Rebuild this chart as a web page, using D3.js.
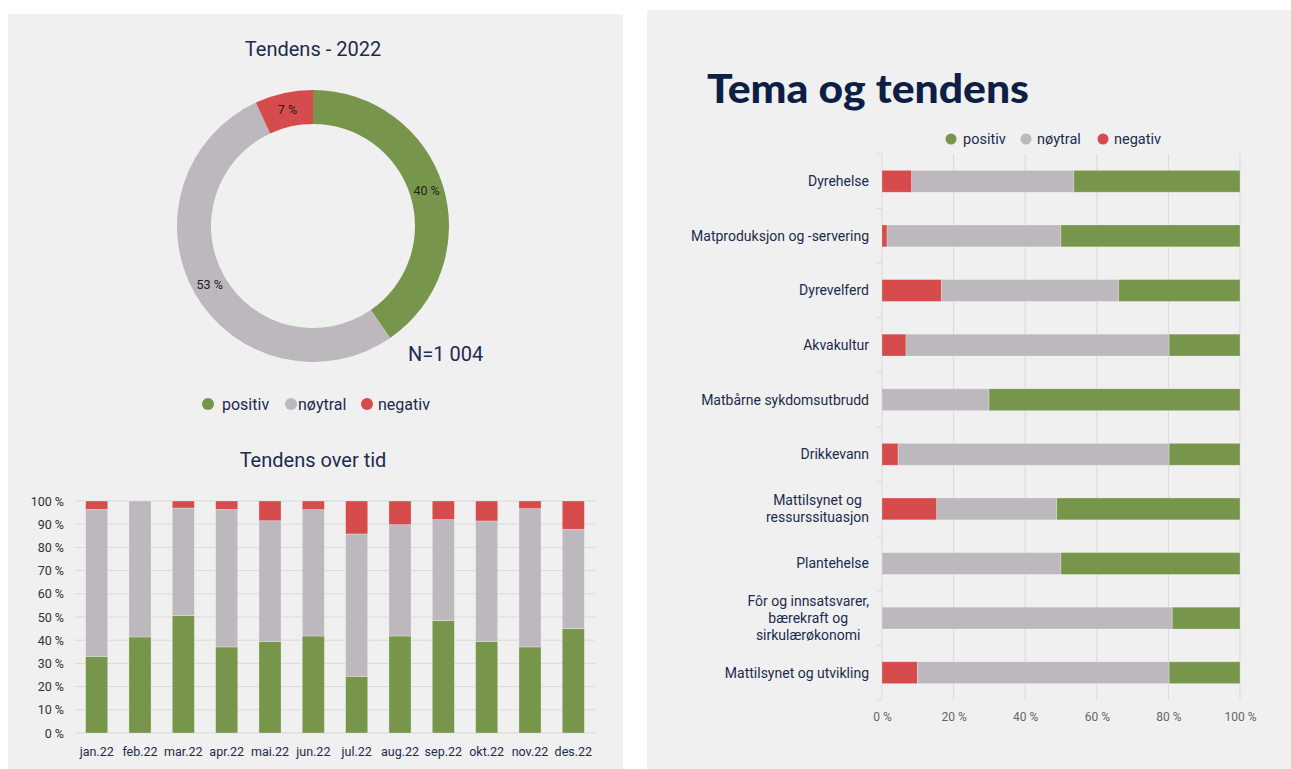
<!DOCTYPE html>
<html><head><meta charset="utf-8">
<script src="https://cdn.jsdelivr.net/npm/d3@7"></script>
<style>
html,body{margin:0;padding:0;background:#fff;}
svg{display:block;font-family:Roboto,"Noto Sans",sans-serif;}
</style></head>
<body>
<svg id="c" width="1291" height="769"></svg>
<script>
// ---------- data ----------
const seriesNames = ["positiv", "nøytral", "negativ"];
const donutValues = [40.4, 52.7, 6.9];
const donutLabels = ["40 %", "53 %", "7 %"];
const donutN = "N=1 004";

const months = ["jan.22","feb.22","mar.22","apr.22","mai.22","jun.22","jul.22","aug.22","sep.22","okt.22","nov.22","des.22"];
const monthPositive = [33.0, 41.4, 50.6, 37.1, 39.5, 41.8, 24.4, 41.8, 48.5, 39.5, 37.1, 45.0];
const monthNeutral  = [63.4, 58.6, 46.4, 59.3, 52.0, 54.5, 61.4, 48.0, 43.5, 51.9, 59.6, 42.8];
const monthNegative = [3.6, 0.0, 3.0, 3.6, 8.5, 3.7, 14.2, 10.2, 8.0, 8.6, 3.3, 12.2];
const monthTicks = [0,10,20,30,40,50,60,70,80,90,100];

const themes = ["Dyrehelse","Matproduksjon og -servering","Dyrevelferd","Akvakultur","Matbårne sykdomsutbrudd","Drikkevann","Mattilsynet og\nressurssituasjon","Plantehelse","Fôr og innsatsvarer,\nbærekraft og\nsirkulærøkonomi","Mattilsynet og utvikling"];
const themeNegative = [8.3, 1.4, 16.6, 6.7, 0.0, 4.5, 15.3, 0.0, 0.0, 9.9];
const themeNeutral  = [45.3, 48.6, 49.5, 73.5, 29.9, 75.7, 33.5, 50.0, 81.1, 70.3];
const themePositive = [46.4, 50.0, 33.9, 19.8, 70.1, 19.8, 51.2, 50.0, 18.9, 19.8];
const themeTicks = [0,20,40,60,80,100];

// ---------- style ----------
const colors = {"positiv":"#78964b","nøytral":"#bcb8bd","negativ":"#d64b4b"};
const navy = "#1c2b4e";
const grid = "#d9d9d9";

const svg = d3.select("#c");
// panels
svg.append("rect").attr("x",8).attr("y",14).attr("width",615).attr("height",755).attr("fill","#f0f0f0");
svg.append("rect").attr("x",647).attr("y",10).attr("width",644).attr("height",759).attr("fill","#f0f0f0");

// ---------- donut ----------
const dg = svg.append("g").attr("transform","translate(313,226)");
const pie = d3.pie().sort(null).value(d=>d.v);
const pdata = pie(seriesNames.map((n,i)=>({n, v:donutValues[i], l:donutLabels[i]})));
const arc = d3.arc().innerRadius(102).outerRadius(136);
const labelArc = d3.arc().innerRadius(119).outerRadius(119);
dg.selectAll("path").data(pdata).join("path").attr("d",arc).attr("fill",d=>colors[d.data.n]);
dg.selectAll("text").data(pdata).join("text")
  .attr("transform",d=>`translate(${labelArc.centroid(d)})`)
  .attr("text-anchor","middle").attr("dy","0.35em")
  .attr("font-size",12.5).attr("fill","#222").text(d=>d.data.l);
svg.append("text").attr("x",313).attr("y",56).attr("text-anchor","middle")
  .attr("font-size",20).attr("fill",navy).text("Tendens - 2022");
svg.append("text").attr("x",408).attr("y",361).attr("font-size",20).attr("fill",navy).text(donutN);
// legend left
const ll = [[208,222],[291,298],[367,378]];
seriesNames.forEach((n,i)=>{
  svg.append("circle").attr("cx",ll[i][0]).attr("cy",404).attr("r",6).attr("fill",colors[n]);
  svg.append("text").attr("x",ll[i][1]).attr("y",409.5).attr("font-size",16).attr("fill",navy).text(n);
});

// ---------- monthly stacked bars ----------
svg.append("text").attr("x",313).attr("y",467).attr("text-anchor","middle")
  .attr("font-size",20).attr("fill",navy).text("Tendens over tid");
const mx = d3.scaleBand().domain(months).range([75,595]).paddingInner(0.49).paddingOuter(0.245);
const my = d3.scaleLinear().domain([0,100]).range([733,501]);
const mg = svg.append("g");
mg.selectAll("line.g").data(monthTicks).join("line")
  .attr("x1",75).attr("x2",595).attr("y1",d=>my(d)).attr("y2",d=>my(d))
  .attr("stroke",grid).attr("stroke-width",1);
const mrows = months.map((m,i)=>({m, "positiv":monthPositive[i], "nøytral":monthNeutral[i], "negativ":monthNegative[i]}));
const mstack = d3.stack().keys(seriesNames)(mrows);
mstack.forEach(s=>{
  mg.append("g").selectAll("rect").data(s).join("rect")
    .attr("x",d=>mx(d.data.m)).attr("width",mx.bandwidth())
    .attr("y",d=>my(d[1])).attr("height",d=>my(d[0])-my(d[1]))
    .attr("fill",colors[s.key]).attr("stroke","rgba(255,255,255,0.35)").attr("stroke-width",0.8);
});
const myAxis = d3.axisLeft(my).tickValues(monthTicks).tickFormat(d=>d+" %").tickSize(0).tickPadding(0);
mg.append("g").attr("transform","translate(64,0)").call(myAxis)
  .call(g=>g.select(".domain").remove())
  .call(g=>g.selectAll("text").attr("font-size",12.5).attr("fill","#333").attr("font-family","Roboto"));
const mxAxis = d3.axisBottom(mx).tickSize(0).tickPadding(0);
mg.append("g").attr("transform","translate(0,747)").call(mxAxis)
  .call(g=>g.select(".domain").remove())
  .call(g=>g.selectAll("text").attr("font-size",12.5).attr("fill",navy).attr("font-family","Roboto"));

// ---------- themes ----------
const title = svg.append("text").attr("x",707).attr("y",103).attr("font-size",40)
  .attr("font-family","Lato").attr("font-weight",900).attr("fill","#0e1f45").text("Tema og tendens");
title.attr("textLength",322).attr("lengthAdjust","spacingAndGlyphs");
const rl = [[951,963],[1026,1037],[1103,1114]];
seriesNames.forEach((n,i)=>{
  svg.append("circle").attr("cx",rl[i][0]).attr("cy",139).attr("r",5.5).attr("fill",colors[n]);
  svg.append("text").attr("x",rl[i][1]).attr("y",144).attr("font-size",14.5).attr("fill",navy).text(n);
});
const tx = d3.scaleLinear().domain([0,100]).range([882,1240]);
const ty = d3.scaleBand().domain(themes).range([154,700]).paddingInner(0.6).paddingOuter(0.3);
const tg = svg.append("g");
tg.selectAll("line.g").data(themeTicks).join("line")
  .attr("x1",d=>tx(d)).attr("x2",d=>tx(d)).attr("y1",154).attr("y2",700)
  .attr("stroke",grid).attr("stroke-width",1);
// category boundary ticks
const bounds = d3.range(themes.length+1).map(i=> i===0?154:(i===themes.length?700: ty(themes[i]) - ty.step()*ty.paddingInner()/2));
tg.selectAll("line.b").data(bounds).join("line")
  .attr("x1",877).attr("x2",882).attr("y1",d=>d).attr("y2",d=>d).attr("stroke",grid);
const trows = themes.map((t,i)=>({t, "negativ":themeNegative[i], "nøytral":themeNeutral[i], "positiv":themePositive[i]}));
const tstack = d3.stack().keys(["negativ","nøytral","positiv"])(trows);
tstack.forEach(s=>{
  tg.append("g").selectAll("rect").data(s).join("rect")
    .attr("y",d=>ty(d.data.t)).attr("height",ty.bandwidth())
    .attr("x",d=>tx(d[0])).attr("width",d=>Math.max(0,tx(d[1])-tx(d[0])))
    .attr("fill",colors[s.key]).attr("stroke","rgba(255,255,255,0.3)").attr("stroke-width",0.8);
});
const txAxis = d3.axisBottom(tx).tickValues(themeTicks).tickFormat(d=>d+" %").tickSize(0).tickPadding(0);
tg.append("g").attr("transform","translate(0,712)").call(txAxis)
  .call(g=>g.select(".domain").remove())
  .call(g=>g.selectAll("text").attr("font-size",12).attr("fill","#666").attr("font-family","Roboto"));
// category labels (multi-line, centred within block, block right-aligned)
themes.forEach(t=>{
  const lines = t.split("\n");
  const cy = ty(t) + ty.bandwidth()/2;
  const lh = 17;
  const g = tg.append("g");
  const texts = lines.map((ln,j)=> g.append("text")
      .attr("y", cy + (j - (lines.length-1)/2)*lh).attr("dy","0.35em")
      .attr("font-size",14).attr("fill",navy).text(ln));
  const w = d3.max(texts, s=>s.node().getComputedTextLength());
  texts.forEach(s=>s.attr("x", 869 - w/2).attr("text-anchor","middle"));
});
</script>
</body></html>
